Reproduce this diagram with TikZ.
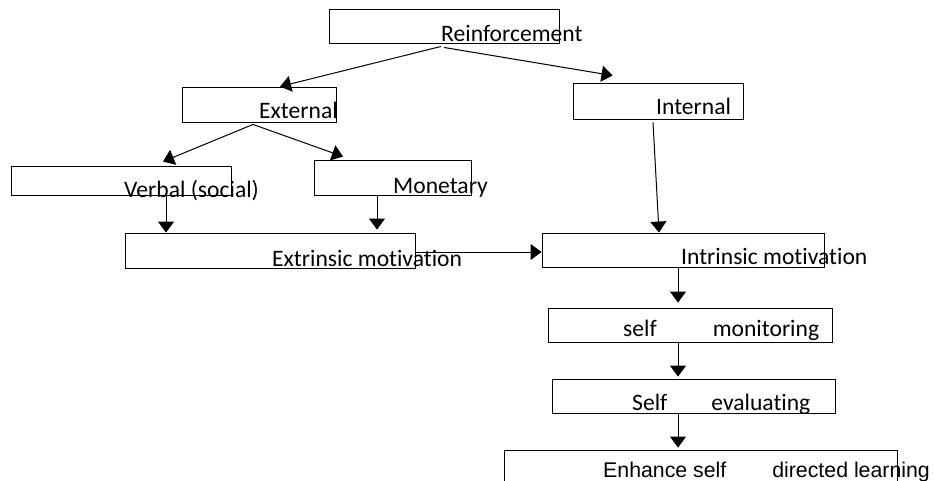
\documentclass[tikz,border=0pt]{standalone}
\usepackage{fontspec}
\setmainfont{Carlito}[Ligatures=NoCommon]
\newfontfamily\arialfont{Liberation Sans}
\usetikzlibrary{arrows.meta}
\begin{document}
\begin{tikzpicture}[x=1pt,y=-1pt,
  box/.style={draw=black,line width=0.9pt,rectangle,inner sep=0pt},
  lbl/.style={anchor=base west,inner sep=0pt,font=\fontsize{23.6}{26}\selectfont},
  lbla/.style={anchor=base west,inner sep=0pt,font=\arialfont\fontsize{21.3}{24}\selectfont},
  arr/.style={line width=1pt,-{Triangle[length=11pt,width=16pt]}}]
\useasboundingbox (0,0) rectangle (934,480);
% boxes
\node[box,minimum width=230pt,minimum height=34pt] (r) at (444,26) {};
\node[box,minimum width=154pt,minimum height=35pt] (ext) at (259,104.5) {};
\node[box,minimum width=170pt,minimum height=36pt] (int) at (658,101) {};
\node[box,minimum width=220pt,minimum height=29pt] (verb) at (121,180.5) {};
\node[box,minimum width=157pt,minimum height=35pt] (mon) at (392.5,177.5) {};
\node[box,minimum width=290pt,minimum height=35pt] (extr) at (270,250.5) {};
\node[box,minimum width=282pt,minimum height=34pt] (intr) at (683,250) {};
\node[box,minimum width=284pt,minimum height=34pt] (sm) at (690,325) {};
\node[box,minimum width=283pt,minimum height=34pt] (se) at (693.5,396) {};
\node[box,minimum width=393pt,minimum height=40pt] (en) at (700.5,470) {};
% texts
\node[lbl] (tr) at (441,41.5) {Reinforcement};
\node[lbl] (text) at (259,118) {External};
\node[lbl] (tint) at (656,114) {Internal};
\node[lbl] (tverb) at (124,197) {Verbal (social)};
\node[lbl] (tmon) at (393,193) {Monetary};
\node[lbl] (textr) at (272,266) {Extrinsic motivation};
\node[lbl] (tintr) at (681,264) {Intrinsic motivation};
\node[lbl] (tsm) at (623,336) {self\hspace{56pt}monitoring};
\node[lbl] (tse) at (632,410) {Self\hspace{44pt}evaluating};
\node[lbla] (ten) at (603,477) {Enhance self\hspace{46pt}directed learning};
% connectors
\draw[arr] ([shift={(-3,3)}]r.south) -- ([shift={(21,0)}]ext.north);
\draw[arr] ([shift={(0,4)}]r.south) -- ([shift={(40,-7)}]int.north west);
\draw[arr] ([shift={(-5,3)}]int.south) -- ([shift={(-24,0)}]intr.north);
\draw[arr] ([shift={(-6,2)}]ext.south) -- ([shift={(42,-4)}]verb.north);
\draw[arr] ([shift={(-6,2)}]ext.south) -- ([shift={(-49.5,-3)}]mon.north);
\draw[arr] ([shift={(45,0)}]verb.south) -- ([shift={(-104,0)}]extr.north);
\draw[arr] ([shift={(-15.5,0)}]mon.south) -- ([shift={(107,-3)}]extr.north);
\draw[arr] ([shift={(0,1.5)}]extr.east) -- ([shift={(0,2)}]intr.west);
\draw[arr] ([shift={(-5,0)}]intr.south) -- ([shift={(-12,-5)}]sm.north);
\draw[arr] ([shift={(-12,0)}]sm.south) -- ([shift={(-15.5,-2)}]se.north);
\draw[arr] ([shift={(-15.5,0)}]se.south) -- ([shift={(-22.5,-2)}]en.north);
\end{tikzpicture}
\end{document}
